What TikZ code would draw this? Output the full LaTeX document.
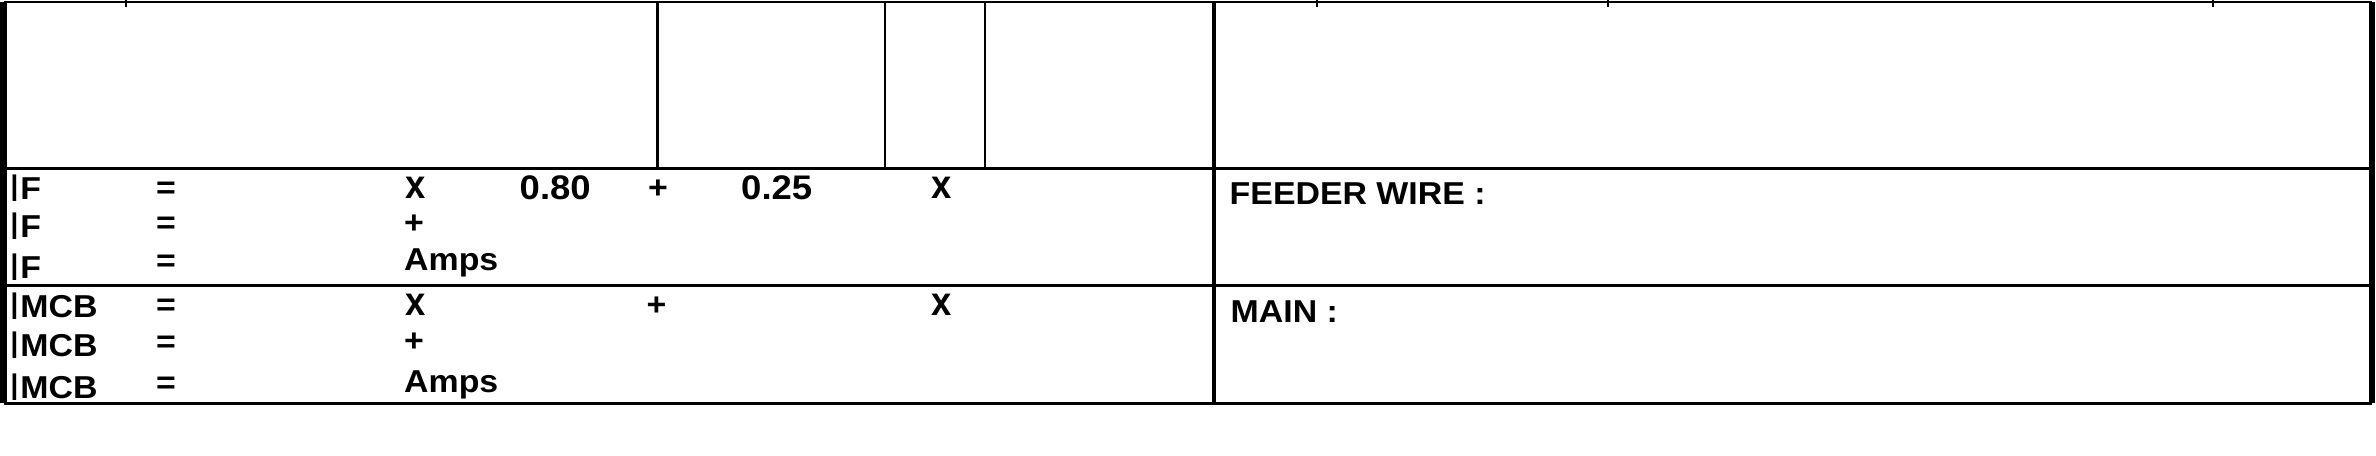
\documentclass[tikz,border=0pt]{standalone}
\usepackage{fontspec}
\setmainfont[FakeStretch=1.07]{Liberation Sans}
\newfontfamily\barfont{Liberation Sans}
\newfontfamily\multfont[FakeStretch=0.9]{Liberation Sans}
\usetikzlibrary{positioning}
\tikzstyle{frame} = [line width=1.9pt]
\tikzstyle{rule}  = [line width=0.9pt]
\newcommand{\curlabel}[1]{\smash{\raisebox{-0.4pt}{\barfont\mdseries\fontsize{11}{12}\selectfont I}}#1}

\begin{document}
\begin{tikzpicture}[
    x=0.01cm, y=-0.01cm,
    cell/.style={anchor=base west, inner sep=0pt, font=\bfseries\fontsize{9}{10}\selectfont},
    num/.style={cell, font=\bfseries\fontsize{9.7}{10}\selectfont},
    mult/.style={cell, font=\multfont\bfseries\fontsize{11.5}{12}\selectfont},
    hair/.style={line width=0.75pt},
  ]
  \useasboundingbox (0,0) rectangle (2376,456);
  \fill[white] (0,0) rectangle (2376,456);

  \coordinate (tl) at (3.5,2);
  \coordinate (tr) at (2372,2);
  \coordinate (bl) at (3.5,403.5);
  \coordinate (br) at (2372,403.5);

  \draw[hair] (tl) -- (tr);
  \draw[rule] (bl) -- (br);
  \draw[frame] (tl) -- (bl);
  \draw[frame] (tr) -- (br);
  \draw[rule] (3.5,168.5) -- (2372,168.5);
  \draw[rule] (3.5,285.5) -- (2372,285.5);
  \draw[line width=1.15pt] (1214,2) -- (1214,403.5);
  \foreach \cx in {657.5,885,985}
    \draw[hair] (\cx,2) -- (\cx,168.5);
  \foreach \cx in {126,1317,1608,2213}
    \draw[hair] (\cx,0) -- (\cx,7);

  \node[cell] (if1)  at (9,200) {\curlabel{F}};
  \node[cell] (eq1)  at (155.5,199) {=};
  \node[mult] (x1)   at (404.5,199) {x};
  \node[num]  (k1)   at (519,200) {0.80};
  \node[cell] (p1)   at (647.5,199) {+};
  \node[num]  (k2)   at (740.5,200) {0.25};
  \node[mult] (x2)   at (930.5,199) {x};

  \node[cell] (if2)  at (9,238) {\curlabel{F}};
  \node[cell] (eq2)  at (155.5,234) {=};
  \node[cell] (p2)   at (403.5,234) {+};

  \node[cell] (if3)  at (9,279) {\curlabel{F}};
  \node[cell] (eq3)  at (155.5,272) {=};
  \node[cell] (amp1) at (403.5,271) {Amps};

  \node[cell] (mcb1) at (9,318) {\curlabel{MCB}};
  \node[cell] (eq4)  at (155.5,316) {=};
  \node[mult] (x3)   at (404.5,316) {x};
  \node[cell] (p3)   at (646,316) {+};
  \node[mult] (x4)   at (930.5,316) {x};

  \node[cell] (mcb2) at (9,357) {\curlabel{MCB}};
  \node[cell] (eq5)  at (155.5,353) {=};
  \node[cell] (p4)   at (403.5,352) {+};

  \node[cell] (mcb3) at (9,399) {\curlabel{MCB}};
  \node[cell] (eq6)  at (155.5,394) {=};
  \node[cell] (amp2) at (403.5,393) {Amps};

  \node[cell] (feeder) at (1229,205) {FEEDER WIRE :};
  \node[cell] (main)   at (1230,323) {MAIN :};
\end{tikzpicture}
\end{document}
